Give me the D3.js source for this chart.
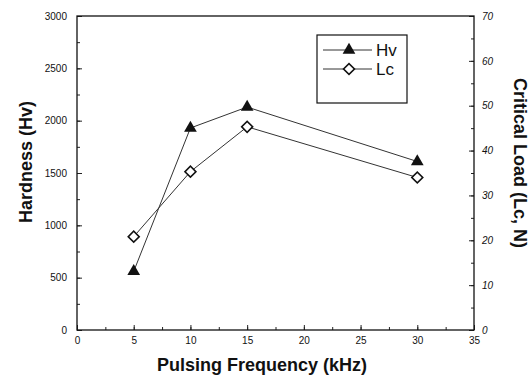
<!DOCTYPE html>
<html>
<head>
<meta charset="utf-8">
<script src="https://cdn.jsdelivr.net/npm/d3@7"></script>
<style>
  body { margin: 0; background: #fff; }
  text { font-family: Arial, "Liberation Sans", sans-serif; fill: #111; }
  .tick text { font-size: 10px; }
  .title { font-weight: bold; font-size: 18px; }
</style>
</head>
<body>
<div id="chart"></div>
<script>
var freq = [5, 10, 15, 30];
var hardness = [560, 1930, 2130, 1610];
var critLoad = [20.8, 35.3, 45.3, 34.0];
var xTicks = [0, 5, 10, 15, 20, 25, 30, 35];
var yLeftTicks = [0, 500, 1000, 1500, 2000, 2500, 3000];
var yRightTicks = [0, 10, 20, 30, 40, 50, 60, 70];

var width = 529, height = 376;
var plotL = 77, plotR = 474, plotT = 16, plotB = 330;

var svg = d3.select("#chart").append("svg")
  .attr("width", width)
  .attr("height", height);

var x = d3.scaleLinear().domain([0, 35]).range([plotL, plotR]);
var yL = d3.scaleLinear().domain([0, 3000]).range([plotB, plotT]);
var yR = d3.scaleLinear().domain([0, 70]).range([plotB, plotT]);
var fmt = d3.format("d");

// minor ticks first, then major ones with labels
function minor(axis, sel) {
  sel.call(axis).call(function (g) {
    g.select(".domain").remove();
    g.selectAll("text").remove();
  });
}

minor(d3.axisBottom(x).tickValues(d3.range(0, 35.1, 2.5)).tickSizeInner(-3).tickSizeOuter(0),
  svg.append("g").attr("transform", "translate(0," + plotB + ")"));
minor(d3.axisLeft(yL).tickValues(d3.range(0, 3001, 250)).tickSizeInner(-3).tickSizeOuter(0),
  svg.append("g").attr("transform", "translate(" + plotL + ",0)"));
minor(d3.axisRight(yR).tickValues(d3.range(0, 70.1, 5)).tickSizeInner(-3).tickSizeOuter(0),
  svg.append("g").attr("transform", "translate(" + plotR + ",0)"));

var gx = svg.append("g")
  .attr("transform", "translate(0," + plotB + ")")
  .call(d3.axisBottom(x).tickValues(xTicks).tickFormat(fmt).tickSizeInner(-5).tickSizeOuter(0).tickPadding(3));
gx.select(".domain").remove();
gx.selectAll("text").attr("dy", "1.1em");

var gl = svg.append("g")
  .attr("transform", "translate(" + plotL + ",0)")
  .call(d3.axisLeft(yL).tickValues(yLeftTicks).tickFormat(fmt).tickSizeInner(-5).tickSizeOuter(0).tickPadding(10));
gl.select(".domain").remove();

var gr = svg.append("g")
  .attr("transform", "translate(" + plotR + ",0)")
  .call(d3.axisRight(yR).tickValues(yRightTicks).tickFormat(fmt).tickSizeInner(-5).tickSizeOuter(0).tickPadding(8));
gr.select(".domain").remove();
gr.selectAll("text").style("font-style", "italic");

svg.selectAll(".tick line").attr("stroke", "#222");

// frame
svg.append("rect")
  .attr("x", plotL).attr("y", plotT)
  .attr("width", plotR - plotL).attr("height", plotB - plotT)
  .attr("fill", "none")
  .attr("stroke", "#111")
  .attr("stroke-width", 1.3);

// series
var lineH = d3.line().x(function (d, i) { return x(freq[i]); }).y(function (d) { return yL(d); });
var lineC = d3.line().x(function (d, i) { return x(freq[i]); }).y(function (d) { return yR(d); });

svg.append("path").datum(hardness)
  .attr("d", lineH).attr("fill", "none").attr("stroke", "#333").attr("stroke-width", 1);
svg.append("path").datum(critLoad)
  .attr("d", lineC).attr("fill", "none").attr("stroke", "#333").attr("stroke-width", 1);

var tri = d3.symbol().type(d3.symbolTriangle).size(70);
var dia = d3.symbol().type(d3.symbolSquare).size(60);

svg.selectAll(".hv").data(hardness).enter().append("path")
  .attr("class", "hv")
  .attr("d", tri)
  .attr("transform", function (d, i) { return "translate(" + x(freq[i]) + "," + yL(d) + ")"; })
  .attr("fill", "#111");

svg.selectAll(".lc").data(critLoad).enter().append("path")
  .attr("class", "lc")
  .attr("d", dia)
  .attr("transform", function (d, i) { return "translate(" + x(freq[i]) + "," + yR(d) + ") rotate(45)"; })
  .attr("fill", "#fff")
  .attr("stroke", "#111")
  .attr("stroke-width", 1.6);

// legend
var leg = svg.append("g");
leg.append("rect")
  .attr("x", 317).attr("y", 35).attr("width", 90).attr("height", 68)
  .attr("fill", "#fff").attr("stroke", "#111").attr("stroke-width", 1.2);
var legItems = [
  { name: "Hv", y: 50, sym: tri, fill: "#111", rot: "" },
  { name: "Lc", y: 69, sym: dia, fill: "#fff", rot: " rotate(45)" }
];
legItems.forEach(function (it) {
  leg.append("line")
    .attr("x1", 323).attr("x2", 372).attr("y1", it.y).attr("y2", it.y)
    .attr("stroke", "#333").attr("stroke-width", 1);
  leg.append("path")
    .attr("d", it.sym)
    .attr("transform", "translate(349," + it.y + ")" + it.rot)
    .attr("fill", it.fill)
    .attr("stroke", "#111")
    .attr("stroke-width", it.fill === "#fff" ? 1.6 : 0);
  leg.append("text")
    .attr("x", 376).attr("y", it.y + 6)
    .style("font-size", "17px")
    .text(it.name);
});

// axis titles
svg.append("text").attr("class", "title")
  .attr("x", 262).attr("y", 371)
  .attr("text-anchor", "middle")
  .text("Pulsing Frequency (kHz)");

svg.append("text").attr("class", "title")
  .attr("transform", "translate(32,162) rotate(-90)")
  .attr("text-anchor", "middle")
  .text("Hardness (Hv)");

svg.append("text").attr("class", "title")
  .attr("transform", "translate(514,163) rotate(90)")
  .attr("text-anchor", "middle")
  .text("Critical Load (Lc, N)");
</script>
</body>
</html>
